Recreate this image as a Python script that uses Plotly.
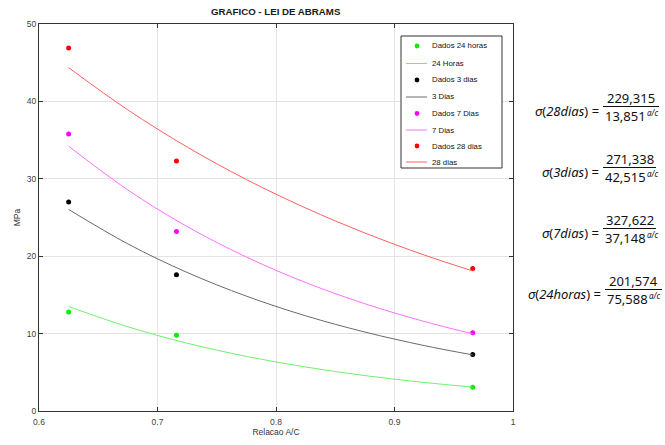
import plotly.graph_objects as go

# ---- data ----
ac_points = [0.625, 0.716, 0.966]
dados_24h = [12.8, 9.8, 3.06]
dados_3d = [27.0, 17.6, 7.3]
dados_7d = [35.8, 23.2, 10.1]
dados_28d = [46.9, 32.3, 18.4]

ac_curve = [0.625, 0.675, 0.725, 0.775, 0.825, 0.875, 0.925, 0.966]
curva_24h = [13.50, 10.88, 8.761, 7.057, 5.685, 4.579, 3.689, 3.089]
curva_3d = [26.04, 21.59, 17.90, 14.84, 12.30, 10.20, 8.455, 7.25]
curva_7d = [34.21, 28.55, 23.83, 19.89, 16.60, 13.86, 11.57, 9.97]
curva_28d = [44.36, 38.90, 34.11, 29.91, 26.23, 23.00, 20.16, 18.10]

x_ticks = [0.6, 0.7, 0.8, 0.9, 1.0]
x_tick_labels = ["0.6", "0.7", "0.8", "0.9", "1"]
y_ticks = [0, 10, 20, 30, 40, 50]

equations = [
    ("28dias", "229,315", "13,851"),
    ("3dias", "271,338", "42,515"),
    ("7dias", "327,622", "37,148"),
    ("24horas", "201,574", "75,588"),
]

# ---- figure ----
W, H = 665, 445
L, R, T, B = 39, 513, 24, 411

def px(x):
    return (x - L) / (R - L)

def py(y):
    return (B - y) / (B - T)

fig = go.Figure()

series = [
    ("Dados 24 horas", dados_24h, "#00ee00", "24 Horas", curva_24h, "#70f070"),
    ("Dados 3 dias", dados_3d, "#000000", "3 Dias", curva_3d, "#6a6a6a"),
    ("Dados 7 Dias", dados_7d, "#ff00ff", "7 Dias", curva_7d, "#ff70ff"),
    ("Dados 28 dias", dados_28d, "#ff0000", "28 dias", curva_28d, "#ff6060"),
]
for name_p, vals, col_p, name_l, curve, col_l in series:
    fig.add_trace(go.Scatter(x=ac_points, y=vals, mode="markers", name=name_p,
                             marker=dict(color=col_p, size=5, symbol="circle")))
    fig.add_trace(go.Scatter(x=ac_curve, y=curve, mode="lines", name=name_l,
                             line=dict(color=col_l, width=1, shape="spline")))

axis_common = dict(showline=True, linecolor="#333333", linewidth=1, mirror="ticks",
                   ticks="inside", ticklen=4, tickcolor="#333333", automargin=False,
                   showgrid=True, gridcolor="#e3e3e3", gridwidth=1, zeroline=False,
                   tickfont=dict(family="Liberation Sans", size=8.5, color="#404040"))

fig.update_xaxes(range=[0.6, 1.0], tickvals=x_ticks, ticktext=x_tick_labels,
                 ticklabelstandoff=3,
                 title=dict(text="Relacao A/C", standoff=2,
                            font=dict(family="Liberation Sans", size=8.5, color="#333333")),
                 **axis_common)
fig.update_yaxes(range=[0, 50], tickvals=y_ticks,
                 title=dict(text="MPa", standoff=4,
                            font=dict(family="Liberation Sans", size=8.5, color="#333333")),
                 **axis_common)

fig.add_annotation(text="<b>GRAFICO - LEI DE ABRAMS</b>", xref="paper", yref="paper",
                   x=0.5, y=py(11), xanchor="center", yanchor="middle", showarrow=False,
                   font=dict(family="Liberation Sans", size=9.7, color="#1a1a1a"))

# ---- legend (drawn by hand to match the compact spacing) ----
leg_left, leg_right, leg_top, leg_bottom = 401, 502, 36, 168
fig.add_shape(type="rect", xref="paper", yref="paper", x0=px(leg_left), x1=px(leg_right),
              y0=py(leg_bottom), y1=py(leg_top), line=dict(color="#333333", width=1),
              fillcolor="white", layer="above")
entry_y = [46, 63.5, 80, 97, 113.5, 130, 146, 162]
entries = []
for name_p, vals, col_p, name_l, curve, col_l in series:
    entries.append(("marker", name_p, col_p))
    entries.append(("line", name_l, col_l))
for (kind, name, col), ey in zip(entries, entry_y):
    if kind == "marker":
        r = 2.4
        fig.add_shape(type="circle", xref="paper", yref="paper",
                      x0=px(417 - r), x1=px(417 + r), y0=py(ey + r), y1=py(ey - r),
                      fillcolor=col, line=dict(color=col, width=0), layer="above")
    else:
        fig.add_shape(type="line", xref="paper", yref="paper",
                      x0=px(406), x1=px(427), y0=py(ey), y1=py(ey),
                      line=dict(color=col, width=1), layer="above")
    fig.add_annotation(text=name, xref="paper", yref="paper", x=px(431), y=py(ey),
                       xanchor="left", yanchor="middle", showarrow=False, borderpad=0,
                       font=dict(family="Liberation Sans", size=7.8, color="#111111"))

# ---- equations ----
eq_rows = [
    # fraction line y, label right x, fraction left x, fraction right x
    (106.5, 600, 603, 659),
    (167.5, 600, 603, 656),
    (228.5, 600, 603, 656),
    (289.5, 602, 605, 662),
]
lab_font = dict(family="Noto Sans", size=13, color="#111111")
num_font = dict(family="Noto Sans", size=13, color="#111111")
sup_font = dict(family="Noto Sans", size=8, color="#111111")
for (lab, num, den), (lny, lxr, fl, fr) in zip(equations, eq_rows):
    fig.add_annotation(text=f"<i>σ</i>(<i>{lab}</i>) =", xref="paper", yref="paper",
                       x=px(lxr), y=py(lny + 4.5), xanchor="right", yanchor="middle",
                       showarrow=False, borderpad=0, font=lab_font)
    cx = px((fl + fr) / 2)
    fig.add_annotation(text=num, xref="paper", yref="paper", x=cx, y=py(lny - 8.6),
                       xanchor="center", yanchor="middle", showarrow=False,
                       borderpad=0, font=num_font)
    fig.add_annotation(text=den, xref="paper", yref="paper", x=px(fl + 1), y=py(lny + 9.6),
                       xanchor="left", yanchor="middle", showarrow=False,
                       borderpad=0, font=num_font)
    fig.add_annotation(text="<i>a/c</i>", xref="paper", yref="paper", x=px(fl + 42.5),
                       y=py(lny + 6.3), xanchor="left", yanchor="middle", showarrow=False,
                       borderpad=0, font=sup_font)
    fig.add_shape(type="line", xref="paper", yref="paper", x0=px(fl), x1=px(fr),
                  y0=py(lny), y1=py(lny), line=dict(color="#111111", width=1))

fig.update_layout(
    width=W, height=H,
    margin=dict(l=L, r=W - R, t=T, b=H - B, autoexpand=False),
    paper_bgcolor="white", plot_bgcolor="white",
    showlegend=False,
)

fig.write_html("out.html", config={"displayModeBar": False},
               post_script="document.body.style.margin='0px';document.body.style.padding='0px';")
